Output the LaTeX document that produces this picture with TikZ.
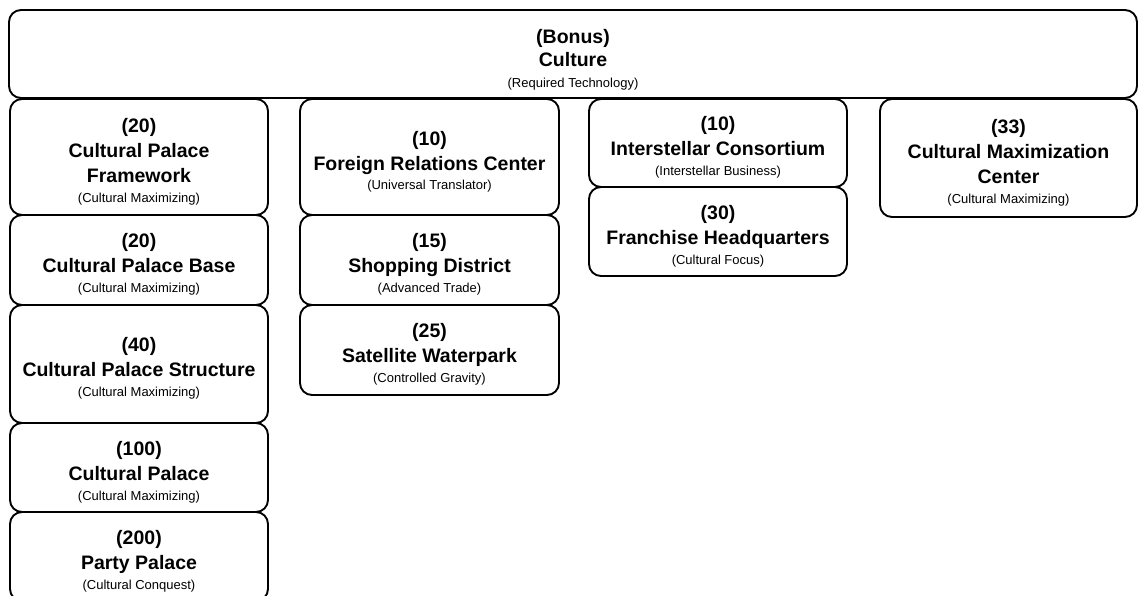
\documentclass[tikz,border=0pt]{standalone}
\usepackage{fontspec}
\setmainfont{Liberation Sans}
\newcommand{\reqtech}[1]{{\mdseries\fontsize{13}{15}\selectfont #1}}
% taller first line pushes each text block slightly down in its box
\newcommand{\padtop}[1]{\rule{0pt}{#1}}
\begin{document}
\begin{tikzpicture}[x=1pt,y=-1pt,
  tile/.style={draw=black, line width=1.9pt, rounded corners=12pt, rectangle,
    inner sep=0pt, align=center, font=\bfseries\fontsize{19.5}{25}\selectfont},
  colbox/.style={tile, minimum width=258pt},
]
\clip (0,0) rectangle (1138,596);
\fill[white] (0,0) rectangle (1138,596);

% category header
\node[tile, minimum width=1128pt, minimum height=88pt,
  font=\bfseries\fontsize{19.5}{23}\selectfont] (culture) at (573,54)
  {\padtop{26pt}(Bonus)\\ Culture\\[-2pt] \reqtech{(Required Technology)}};

% column 1
\node[colbox, minimum height=116pt] (cpf) at (139,157)
  {\padtop{23pt}(20)\\ Cultural Palace\\ Framework\\[-5pt] \reqtech{(Cultural Maximizing)}};
\node[colbox, minimum height=90pt] (cpb) at (139,260)
  {\padtop{23pt}(20)\\ Cultural Palace Base\\[-5pt] \reqtech{(Cultural Maximizing)}};
\node[colbox, minimum height=118pt] (cps) at (139,364)
  {\padtop{23pt}(40)\\ Cultural Palace Structure\\[-5pt] \reqtech{(Cultural Maximizing)}};
\node[colbox, minimum height=89pt] (cp) at (139,467.5)
  {\padtop{23pt}(100)\\ Cultural Palace\\[-5pt] \reqtech{(Cultural Maximizing)}};
\node[colbox, minimum height=89pt] (pp) at (139,556.5)
  {\padtop{23pt}(200)\\ Party Palace\\[-5pt] \reqtech{(Cultural Conquest)}};

% column 2
\node[colbox, minimum width=259pt, minimum height=116pt] (frc) at (429.5,157)
  {\padtop{23pt}(10)\\ Foreign Relations Center\\[-6pt] \reqtech{(Universal Translator)}};
\node[colbox, minimum width=259pt, minimum height=90pt] (sd) at (429.5,260)
  {\padtop{23pt}(15)\\ Shopping District\\[-5pt] \reqtech{(Advanced Trade)}};
\node[colbox, minimum width=259pt, minimum height=90pt] (sw) at (429.5,350)
  {\padtop{23pt}(25)\\ Satellite Waterpark\\[-5pt] \reqtech{(Controlled Gravity)}};

% column 3
\node[colbox, minimum height=88pt] (ic) at (718,143)
  {\padtop{23pt}(10)\\ Interstellar Consortium\\[-5pt] \reqtech{(Interstellar Business)}};
\node[colbox, minimum height=89pt] (fh) at (718,231.5)
  {\padtop{23pt}(30)\\ Franchise Headquarters\\[-5pt] \reqtech{(Cultural Focus)}};

% column 4
\node[colbox, minimum width=257pt, minimum height=118pt] (cmc) at (1008.5,158)
  {\padtop{23pt}(33)\\ Cultural Maximization\\ Center\\[-5pt] \reqtech{(Cultural Maximizing)}};
\end{tikzpicture}
\end{document}
